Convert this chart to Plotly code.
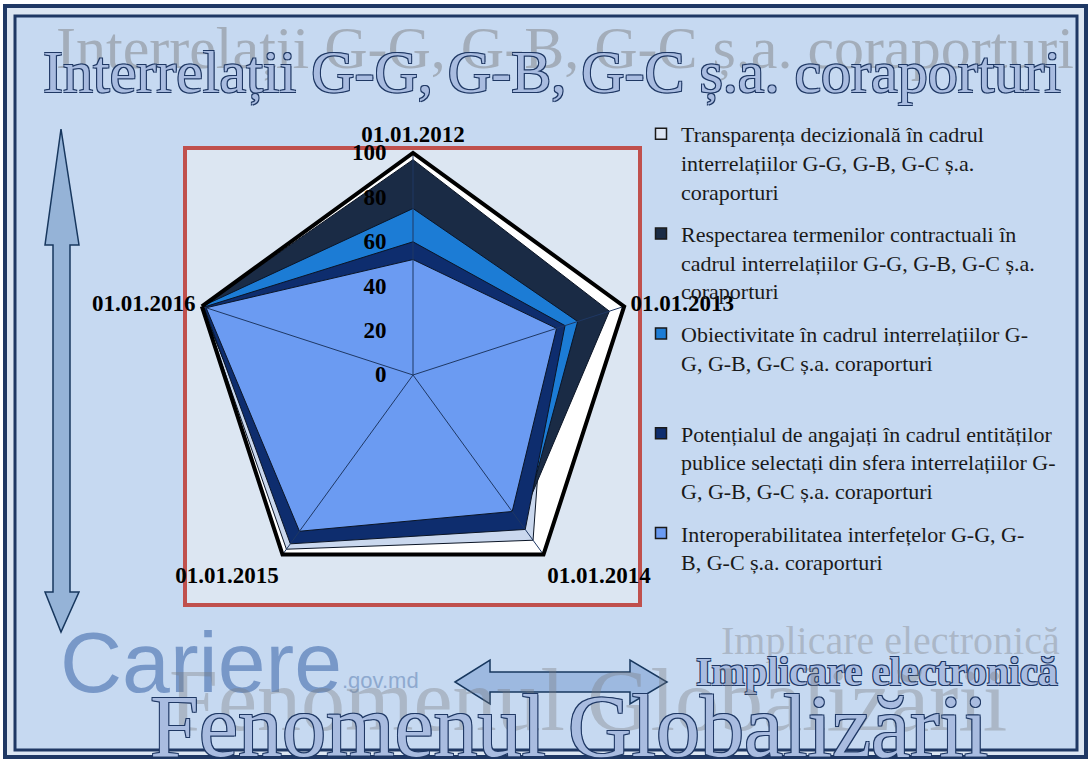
import plotly.graph_objects as go

W, H = 1091, 762

categories = ["01.01.2012", "01.01.2013", "01.01.2014", "01.01.2015", "01.01.2016"]
radial_ticks = [0, 20, 40, 60, 80, 100]

series_names = [
    "Transparența decizională în cadrul<br>interrelațiilor G-G, G-B, G-C ș.a.<br>coraporturi",
    "Respectarea termenilor contractuali în<br>cadrul interrelațiilor G-G, G-B, G-C ș.a.<br>coraporturi",
    "Obiectivitate în cadrul interrelațiilor G-<br>G, G-B, G-C ș.a. coraporturi<br> ",
    "Potențialul de angajați în cadrul entităților<br>publice selectați din sfera interrelațiilor G-<br>G, G-B, G-C ș.a. coraporturi",
    "Interoperabilitatea interfețelor G-G, G-<br>B, G-C ș.a. coraporturi",
]
transparenta = [90, 64, 92, 97, 100]
respectarea = [97, 93, 82, 90, 100]
obiectivitate = [75, 78, 84, 90, 100]
potentialul = [60, 72, 86, 94, 99]
interoperabilitatea = [52, 68, 76, 87, 98]

series_values = [transparenta, respectarea, obiectivitate, potentialul, interoperabilitatea]
series_colors = ["#CAD8EE", "#1A2B45", "#1C7CD5", "#0E2D6E", "#6B9BF2"]
legend_colors = ["#DCE5F3", "#1A2B45", "#1C7CD5", "#0E2D6E", "#6B9BF2"]


def X(p):
    return p / W


def Y(p):
    return 1 - p / H


fig = go.Figure()

for name, vals, col in zip(series_names, series_values, series_colors):
    fig.add_trace(go.Scatterpolar(
        r=vals + [vals[0]],
        theta=categories + [categories[0]],
        name=name,
        mode="lines",
        fill="toself",
        fillcolor=col,
        line=dict(color="#0B1526", width=1),
        showlegend=False,
        hoverinfo="skip",
    ))

# spokes
sr, st = [], []
for c in categories:
    sr += [0, 100, None]
    st += [c, c, c]
fig.add_trace(go.Scatterpolar(r=sr, theta=st, mode="lines",
                              line=dict(color="#1F3864", width=1),
                              showlegend=False, hoverinfo="skip"))

# legend entries (square swatches)
for name, col in zip(series_names, legend_colors):
    fig.add_trace(go.Scatterpolar(
        r=[None], theta=[categories[0]], name=name, mode="markers",
        marker=dict(symbol="square", size=11, color=col, line=dict(color="#1A1A1A", width=1.5)),
        legendgroup=name, hoverinfo="skip",
    ))

serif = "Liberation Serif"
shapes = []
shapes.append(dict(type="rect", xref="paper", yref="paper", x0=X(0), x1=X(W), y0=Y(H), y1=Y(0),
                   fillcolor="white", line=dict(width=0), layer="below"))
shapes.append(dict(type="rect", xref="paper", yref="paper", x0=X(5), x1=X(1086), y0=Y(757), y1=Y(6),
                   fillcolor="#DCE6F2", line=dict(color="#1F3864", width=4), layer="below"))
shapes.append(dict(type="rect", xref="paper", yref="paper", x0=X(15), x1=X(1077), y0=Y(750), y1=Y(16),
                   fillcolor="#C6D9F1", line=dict(color="#1F3864", width=3), layer="below"))
shapes.append(dict(type="rect", xref="paper", yref="paper", x0=X(185), x1=X(640), y0=Y(605), y1=Y(148),
                   fillcolor="#DCE6F2", line=dict(color="#C0504D", width=4), layer="below"))


def path(pts):
    return "M " + " L ".join(f"{X(a):.5f},{Y(b):.5f}" for a, b in pts) + " Z"


vert = [(61, 129), (79, 245), (70, 245), (70, 592), (79, 592), (61, 632),
        (45, 592), (53, 592), (53, 245), (45, 245)]
shapes.append(dict(type="path", xref="paper", yref="paper", path=path(vert),
                   fillcolor="#95B3D7", line=dict(color="#17375E", width=1.5), layer="above"))
horiz = [(455, 682), (490, 660), (490, 672), (630, 672), (630, 660), (667, 682),
         (630, 704), (630, 692), (490, 692), (490, 704)]
shapes.append(dict(type="path", xref="paper", yref="paper", path=path(horiz),
                   fillcolor="#9DB9E0", line=dict(color="#17375E", width=1.5), layer="above"))

outline = "-1px -1px 0 #1F3864, 1px -1px 0 #1F3864, -1px 1px 0 #1F3864, 1px 1px 0 #1F3864"
ann = []
ann.append(dict(text="Interrelații G-G, G-B, G-C ș.a. coraporturi", x=X(565), y=Y(48),
                xref="paper", yref="paper", showarrow=False, xanchor="center", yanchor="middle",
                font=dict(family=serif, size=60, color="rgba(120,120,120,0.45)")))
ann.append(dict(text="Interrelații G-G, G-B, G-C ș.a. coraporturi", x=X(552), y=Y(72),
                xref="paper", yref="paper", showarrow=False, xanchor="center", yanchor="middle",
                font=dict(family=serif, size=60, color="#A9BCE0", shadow=outline)))
ann.append(dict(text="Cariere", x=X(58), y=Y(662), xref="paper", yref="paper", showarrow=False,
                xanchor="left", yanchor="middle",
                font=dict(family="Liberation Sans", size=86, color="#7898C8")))
ann.append(dict(text=".gov.md", x=X(340), y=Y(680), xref="paper", yref="paper", showarrow=False,
                xanchor="left", yanchor="middle",
                font=dict(family="Liberation Sans", size=22, color="#8EA9CF")))
ann.append(dict(text="Implicare electronică", x=X(890), y=Y(640), xref="paper", yref="paper",
                showarrow=False, xanchor="center", yanchor="middle",
                font=dict(family=serif, size=40, color="rgba(120,120,120,0.35)")))
ann.append(dict(text="Implicare electronică", x=X(877), y=Y(671), xref="paper", yref="paper",
                showarrow=False, xanchor="center", yanchor="middle",
                font=dict(family=serif, size=40, weight="bold", color="#A9BCE0", shadow=outline)))
ann.append(dict(text="Fenomenul Globalizării", x=X(588), y=Y(700), xref="paper", yref="paper",
                showarrow=False, xanchor="center", yanchor="middle",
                font=dict(family=serif, size=88, color="rgba(120,120,120,0.35)")))
ann.append(dict(text="Fenomenul Globalizării", x=X(569), y=Y(726), xref="paper", yref="paper",
                showarrow=False, xanchor="center", yanchor="middle",
                font=dict(family=serif, size=88, color="#A9BCE0", shadow=outline)))

tick_font = dict(family=serif, size=23, color="black", weight="bold")

fig.update_layout(
    width=W, height=H,
    margin=dict(l=0, r=0, t=0, b=0),
    paper_bgcolor="white",
    shapes=shapes,
    annotations=ann,
    polar=dict(
        domain=dict(x=[X(191), X(635)], y=[Y(597), Y(153)]),
        bgcolor="white",
        gridshape="linear",
        radialaxis=dict(range=[0, 100], tickvals=radial_ticks, angle=90, tickangle=90,
                        side="counterclockwise",
                        showgrid=False, showline=False, ticks="outside", ticklen=18,
                        tickcolor="rgba(0,0,0,0)", tickfont=tick_font,
                        layer="above traces"),
        angularaxis=dict(direction="clockwise", rotation=90, showgrid=False, showline=True,
                         linecolor="black", linewidth=4, ticks="", tickfont=tick_font,
                         layer="above traces"),
    ),
    showlegend=True,
    legend=dict(x=X(641), y=Y(113), xanchor="left", yanchor="top", valign="top",
                bgcolor="rgba(0,0,0,0)", traceorder="grouped", tracegroupgap=11,
                font=dict(family=serif, size=22, color="#1A1A1A")),
)

fig.write_html("out.html", post_script="document.body.style.margin='0';",
               config={"displayModeBar": False})
